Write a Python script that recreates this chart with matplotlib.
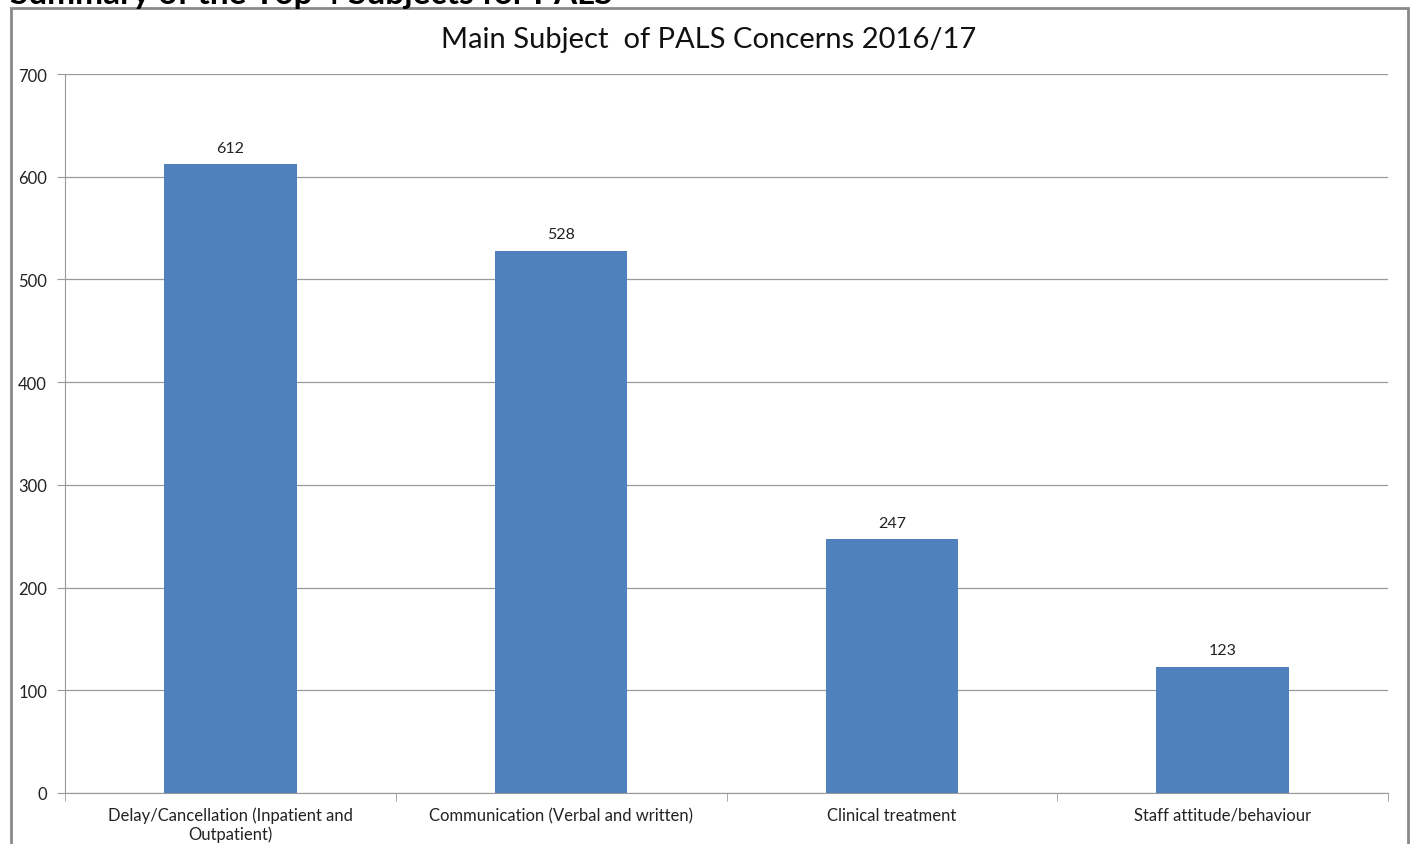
import matplotlib.pyplot as plt
from matplotlib.patches import Rectangle

subjects = ['Delay/Cancellation (Inpatient and\nOutpatient)',
            'Communication (Verbal and written)',
            'Clinical treatment',
            'Staff attitude/behaviour']
concerns = [612, 528, 247, 123]
yticks = [0, 100, 200, 300, 400, 500, 600, 700]

plt.rcParams['font.family'] = ['Lato', 'DejaVu Sans']

fig = plt.figure(figsize=(14.11, 8.45), dpi=100)
ax = fig.add_axes([0.0461, 0.0604, 0.9376, 0.8508])

x = range(len(subjects))
bars = ax.bar(x, concerns, width=0.4, color='#4F81BD', zorder=3)
for b, v in zip(bars, concerns):
    ax.text(b.get_x() + b.get_width() / 2, v + 9, str(v),
            ha='center', va='bottom', fontsize=11.5, color='#222222')

ax.set_xlim(-0.5, len(subjects) - 0.5)
ax.set_ylim(0, 700)
ax.set_yticks(yticks)
ax.set_xticks(list(x))
ax.set_xticklabels(subjects, fontsize=12, color='#222222', linespacing=1.15)
ax.set_xticks([i - 0.5 for i in range(len(subjects) + 1)], minor=True)
ax.tick_params(axis='x', which='major', length=0, pad=10)
ax.tick_params(axis='x', which='minor', length=6, color='#999999')
ax.tick_params(axis='y', length=6, color='#999999', labelsize=12,
               labelcolor='#222222', pad=7)
ax.grid(axis='y', color='#9a9a9a', linewidth=0.9, zorder=0)
for s in ['top', 'right']:
    ax.spines[s].set_visible(False)
ax.spines['left'].set_color('#999999')
ax.spines['bottom'].set_color('#999999')

fig.text(0.5025, 0.953, 'Main Subject  of PALS Concerns 2016/17',
         ha='center', va='center', fontsize=21, color='#111111')

# heading above the chart box, only its lower part shows
fig.text(0.007, 1.006, 'Summary of the Top 4 Subjects for PALS',
         ha='left', va='center', fontsize=24, fontweight='bold')

fig.patches.append(Rectangle((0.0075, -0.05), 0.9905, 1.039,
                             transform=fig.transFigure, fill=False,
                             edgecolor='#8a8a8a', linewidth=2))

fig.savefig('out.png', dpi=100)
